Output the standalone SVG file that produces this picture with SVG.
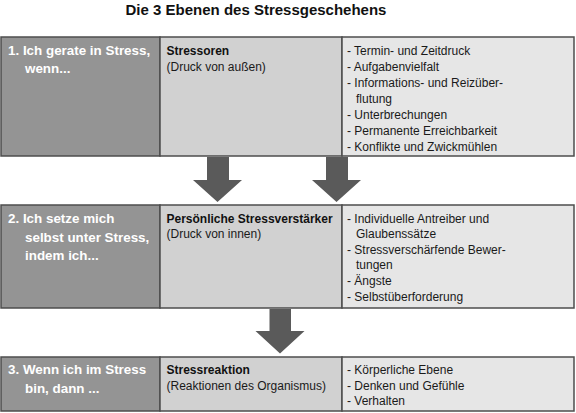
<svg xmlns="http://www.w3.org/2000/svg" width="576" height="413" viewBox="0 0 576 413">
<style>
text{font-family:"Liberation Sans",Arial,sans-serif;}
.title{font-size:15px;font-weight:bold;fill:#111;}
.c1{fill:#949494;stroke:#4d4d4d;stroke-width:1.5;}
.c2{fill:#d1d1d1;stroke:#4d4d4d;stroke-width:1.5;}
.c3{fill:#e6e6e6;stroke:#4d4d4d;stroke-width:1.5;}
.lvl{font-size:13.4px;font-weight:bold;fill:#fff;}
.hd{font-size:12px;font-weight:bold;fill:#111;}
.tx{font-size:12px;fill:#1a1a1a;}
.arrow{fill:#5a5a5a;}
</style>
<rect width="576" height="413" fill="#fff"/>
<text class="title" x="256" y="14.5" text-anchor="middle">Die 3 Ebenen des Stressgeschehens</text>

<g id="row1">
<rect class="c1" x="1" y="37" width="159" height="119"/>
<rect class="c2" x="160" y="37" width="182" height="119"/>
<rect class="c3" x="342" y="37" width="232" height="119"/>
<text class="lvl" x="8" y="54.5">1. Ich gerate in Stress,</text>
<text class="lvl" x="25" y="72.5">wenn...</text>
<text class="hd" x="166.5" y="54.5">Stressoren</text>
<text class="tx" x="166.5" y="70.5">(Druck von außen)</text>
<text class="tx" x="347" y="54.5">- Termin- und Zeitdruck</text>
<text class="tx" x="347" y="70.5">- Aufgabenvielfalt</text>
<text class="tx" x="347" y="86.5">- Informations- und Reizüber-</text>
<text class="tx" x="356" y="102.5">flutung</text>
<text class="tx" x="347" y="118.5">- Unterbrechungen</text>
<text class="tx" x="347" y="134.5">- Permanente Erreichbarkeit</text>
<text class="tx" x="347" y="150.5">- Konflikte und Zwickmühlen</text>
</g>

<g id="row2">
<rect class="c1" x="1" y="205" width="159" height="103"/>
<rect class="c2" x="160" y="205" width="182" height="103"/>
<rect class="c3" x="342" y="205" width="232" height="103"/>
<text class="lvl" x="8" y="223">2. Ich setze mich</text>
<text class="lvl" x="25" y="241.5">selbst unter Stress,</text>
<text class="lvl" x="25" y="260">indem ich...</text>
<text class="hd" x="166.5" y="222.5">Persönliche Stressverstärker</text>
<text class="tx" x="166.5" y="238">(Druck von innen)</text>
<text class="tx" x="347" y="222.5">- Individuelle Antreiber und</text>
<text class="tx" x="356" y="238">Glaubenssätze</text>
<text class="tx" x="347" y="253.5">- Stressverschärfende Bewer-</text>
<text class="tx" x="356" y="269">tungen</text>
<text class="tx" x="347" y="285">- Ängste</text>
<text class="tx" x="347" y="300.5">- Selbstüberforderung</text>
</g>

<g id="row3">
<rect class="c1" x="1" y="357" width="159" height="54"/>
<rect class="c2" x="160" y="357" width="182" height="54"/>
<rect class="c3" x="342" y="357" width="232" height="54"/>
<text class="lvl" x="8" y="374">3. Wenn ich im Stress</text>
<text class="lvl" x="25" y="392.5">bin, dann ...</text>
<text class="hd" x="166.5" y="373.5">Stressreaktion</text>
<text class="tx" x="166.5" y="389.5">(Reaktionen des Organismus)</text>
<text class="tx" x="347" y="373.5">- Körperliche Ebene</text>
<text class="tx" x="347" y="389.5">- Denken und Gefühle</text>
<text class="tx" x="347" y="405">- Verhalten</text>
</g>

<g id="connectors">
<polygon class="arrow" points="207,157 229,157 229,180 242,180 217.5,202 193,180 207,180"/>
<polygon class="arrow" points="326,157 348,157 348,180 361,180 336.5,202 312,180 326,180"/>
<polygon class="arrow" points="269.5,309 291,309 291,331 304.5,331 280,353.5 255.5,331 269.5,331"/>
</g>
</svg>
